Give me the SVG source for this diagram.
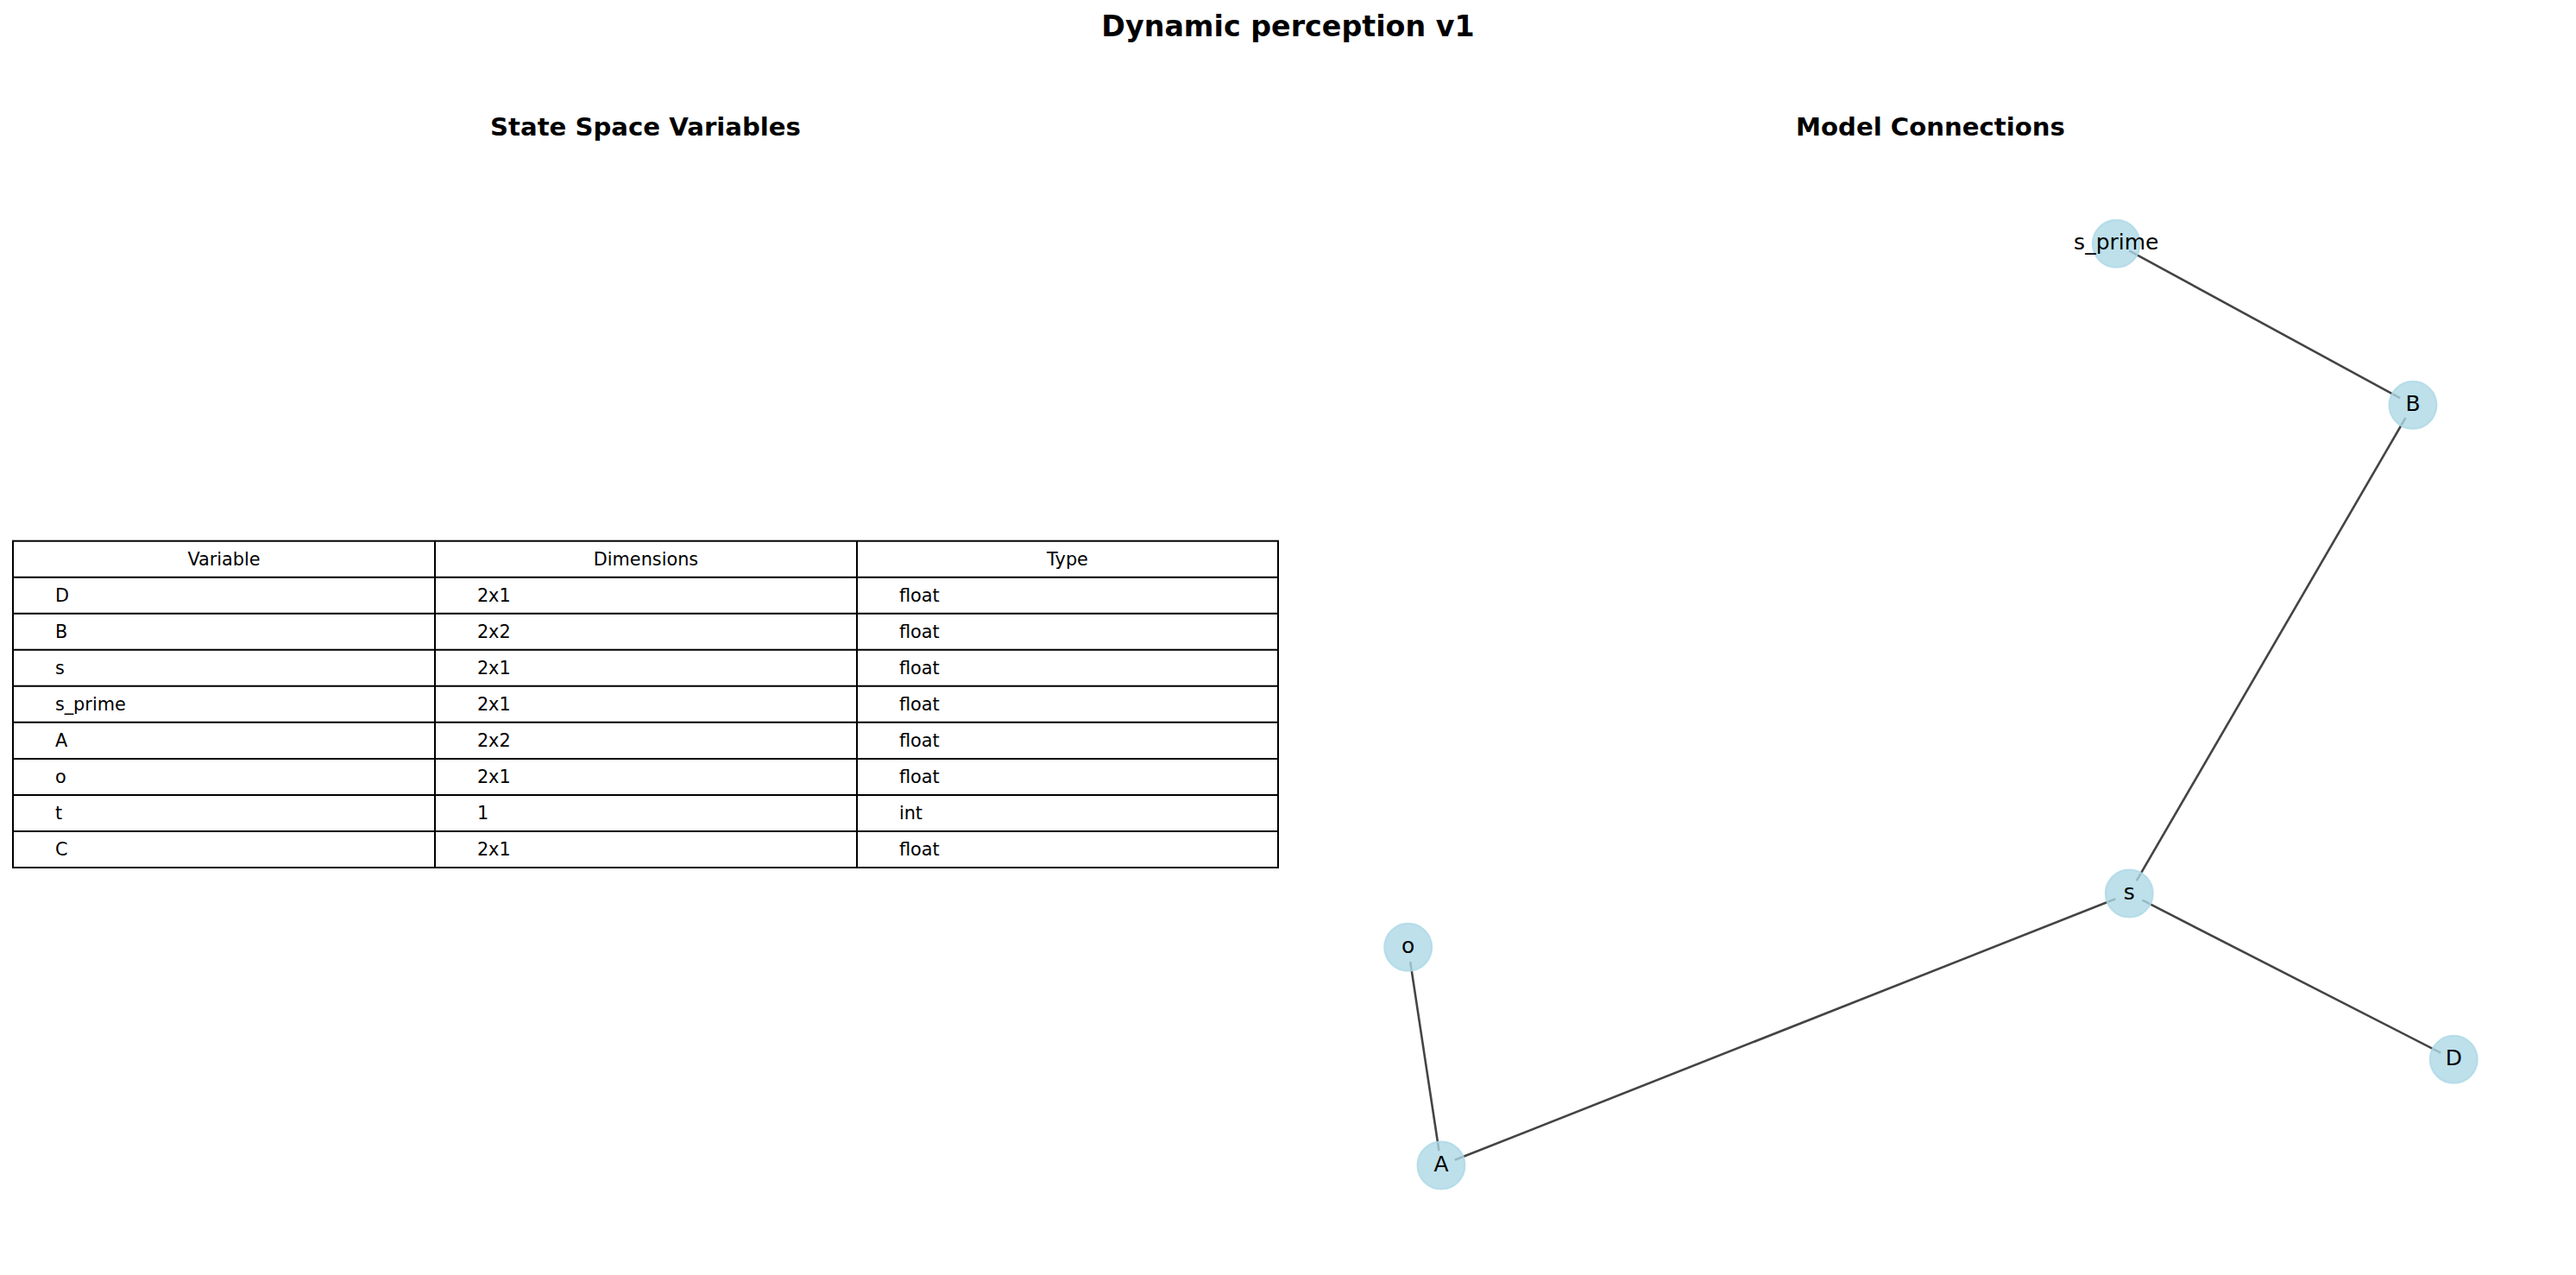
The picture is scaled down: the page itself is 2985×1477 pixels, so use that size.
<svg xmlns="http://www.w3.org/2000/svg" width="2985" height="1477" viewBox="0 0 2985 1477">
<style>
.title{font-family:"DejaVu Sans",sans-serif;font-weight:bold;font-size:33.3px;fill:#000}
.sub{font-family:"DejaVu Sans",sans-serif;font-weight:bold;font-size:29.17px;fill:#000}
.cell{font-family:"DejaVu Sans",sans-serif;font-size:20.8px;fill:#000}
.hdr{font-family:"DejaVu Sans",sans-serif;font-size:20.8px;fill:#000;text-anchor:middle}
.grid{stroke:#000;stroke-width:2;fill:none}
.edge{stroke:#444;stroke-width:2.6;stroke-linecap:butt;fill:none}
.node{fill:#add8e6;fill-opacity:0.8;stroke:#add8e6;stroke-opacity:0.8;stroke-width:2}
.lbl{font-family:"DejaVu Sans",sans-serif;font-size:25px;fill:#000;text-anchor:middle}
</style>
<rect x="0" y="0" width="2985" height="1477" fill="#fff"/>
<text class="title" x="1492.5" y="41.7" text-anchor="middle">Dynamic perception v1</text>
<text class="sub" x="748" y="156.7" text-anchor="middle">State Space Variables</text>
<text class="sub" x="2237" y="156.7" text-anchor="middle">Model Connections</text>

<g id="table">
<rect class="grid" x="15" y="626.7" width="1466" height="378.3"/>
<path class="grid" d="M504 626.7V1005M993 626.7V1005M15 668.73H1481M15 710.76H1481M15 752.79H1481M15 794.82H1481M15 836.85H1481M15 878.88H1481M15 920.91H1481M15 962.94H1481"/>
<text class="hdr" x="259.5" y="654.5">Variable</text>
<text class="hdr" x="748.5" y="654.5">Dimensions</text>
<text class="hdr" x="1237" y="654.5">Type</text>
<g class="cell">
<text x="63.9" y="696.5">D</text><text x="552.9" y="696.5">2x1</text><text x="1041.9" y="696.5">float</text>
<text x="63.9" y="738.6">B</text><text x="552.9" y="738.6">2x2</text><text x="1041.9" y="738.6">float</text>
<text x="63.9" y="780.6">s</text><text x="552.9" y="780.6">2x1</text><text x="1041.9" y="780.6">float</text>
<text x="63.9" y="822.6">s_prime</text><text x="552.9" y="822.6">2x1</text><text x="1041.9" y="822.6">float</text>
<text x="63.9" y="864.7">A</text><text x="552.9" y="864.7">2x2</text><text x="1041.9" y="864.7">float</text>
<text x="63.9" y="906.7">o</text><text x="552.9" y="906.7">2x1</text><text x="1041.9" y="906.7">float</text>
<text x="63.9" y="948.7">t</text><text x="552.9" y="948.7">1</text><text x="1041.9" y="948.7">int</text>
<text x="63.9" y="990.7">C</text><text x="552.9" y="990.7">2x1</text><text x="1041.9" y="990.7">float</text>
</g>
</g>

<g id="connectors">
<line class="edge" x1="2467.2" y1="290.4" x2="2781.1" y2="461.2"/>
<line class="edge" x1="2787.5" y1="484.0" x2="2475.8" y2="1020.3"/>
<line class="edge" x1="2482.4" y1="1042.7" x2="2828.2" y2="1219.6"/>
<line class="edge" x1="2451.5" y1="1041.2" x2="1685.8" y2="1343.8"/>
<line class="edge" x1="1634.2" y1="1114.1" x2="1667.5" y2="1333.2"/>
</g>

<g id="node-s_prime"><circle class="node" cx="2452.3" cy="282.3" r="27.5"/><text class="lbl" x="2452.3" y="288.8">s_prime</text></g>
<g id="node-B"><circle class="node" cx="2796" cy="469.3" r="27.5"/><text class="lbl" x="2796" y="476.3">B</text></g>
<g id="node-s"><circle class="node" cx="2467.3" cy="1035" r="27.5"/><text class="lbl" x="2467.3" y="1042">s</text></g>
<g id="node-D"><circle class="node" cx="2843.3" cy="1227.3" r="27.5"/><text class="lbl" x="2843.3" y="1234.3">D</text></g>
<g id="node-o"><circle class="node" cx="1631.7" cy="1097.3" r="27.5"/><text class="lbl" x="1631.7" y="1104.3">o</text></g>
<g id="node-A"><circle class="node" cx="1670" cy="1350" r="27.5"/><text class="lbl" x="1670" y="1357">A</text></g>
</svg>
